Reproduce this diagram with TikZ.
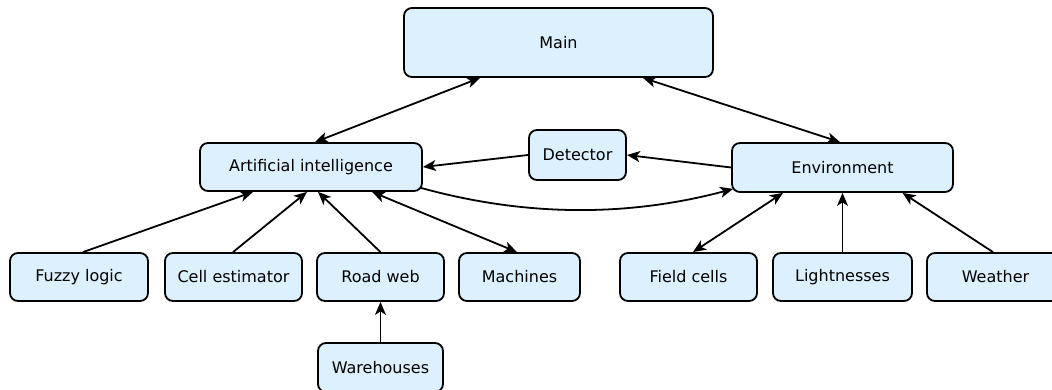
\documentclass[tikz,border=0pt]{standalone}
\usepackage{fontspec}
\setmainfont{DejaVu Sans}
\usetikzlibrary{arrows.meta}
\definecolor{boxfill}{RGB}{220,240,253}
\begin{document}
\begin{tikzpicture}[x=1pt,y=-1pt,
  box/.style={draw=black, line width=1.8pt, fill=boxfill, rounded corners=8pt,
    inner sep=0pt, minimum height=48pt, font=\fontsize{16}{19}\selectfont},
  con/.style={line width=1.8pt, -{Stealth[length=13pt,width=11pt,inset=3.5pt]}},
  bicon/.style={line width=1.8pt, {Stealth[length=13pt,width=11pt,inset=3.5pt]}-{Stealth[length=13pt,width=11pt,inset=3.5pt]}}
]
\useasboundingbox (0,0) rectangle (1052,390);

\node[box, minimum width=309pt, minimum height=69pt] (main) at (558.5,42.5) {Main};
\node[box, minimum width=222pt] (ai) at (311,167) {Artificial intelligence};
\node[box, minimum width=97pt, minimum height=50pt] (det) at (577.5,155) {Detector};
\node[box, minimum width=221pt, minimum height=49pt] (env) at (842.5,167.5) {Environment};

\node[box, minimum width=138pt] (fuzzy) at (79,277) {Fuzzy logic};
\node[box, minimum width=137pt] (cell) at (233.5,277) {Cell estimator};
\node[box, minimum width=127pt] (road) at (380.5,277) {Road web};
\node[box, minimum width=121pt] (mach) at (519.5,277) {Machines};
\node[box, minimum width=137pt] (field) at (688.5,277) {Field cells};
\node[box, minimum width=139pt] (light) at (842.5,277) {Lightnesses};
\node[box, minimum width=137pt] (weather) at (995.5,277) {Weather};
\node[box, minimum width=125pt, minimum height=49pt] (ware) at (380.5,367.5) {Warehouses};

\draw[bicon] ([xshift=-78.5pt]main.south) -- ([xshift=4pt]ai.north);
\draw[bicon] ([xshift=84.5pt]main.south) -- ([xshift=-2.5pt]env.north);
\draw[con] (det.west) -- (ai.east);
\draw[con] (env.west) -- (det.east);
\draw[con] ([xshift=-2pt,yshift=4pt]ai.south east) .. controls +(105,29) and +(-105,28) .. ([xshift=2pt,yshift=4pt]env.south west);

\draw[con] ([xshift=4pt]fuzzy.north) -- ([xshift=-58pt]ai.south);
\draw[con] ([xshift=-0.5pt]cell.north) -- ([xshift=-4pt]ai.south);
\draw[con] (road.north) -- ([xshift=7pt]ai.south);
\draw[bicon] ([xshift=61pt]ai.south) -- ([xshift=-2.5pt]mach.north);
\draw[con] (ware.north) -- (road.south);

\draw[bicon] ([xshift=4.5pt]field.north) -- ([xshift=-59.5pt]env.south);
\draw[con] (light.north) -- (env.south);
\draw[con] ([xshift=-2.5pt]weather.north) -- ([xshift=60pt]env.south);
\end{tikzpicture}
\end{document}
